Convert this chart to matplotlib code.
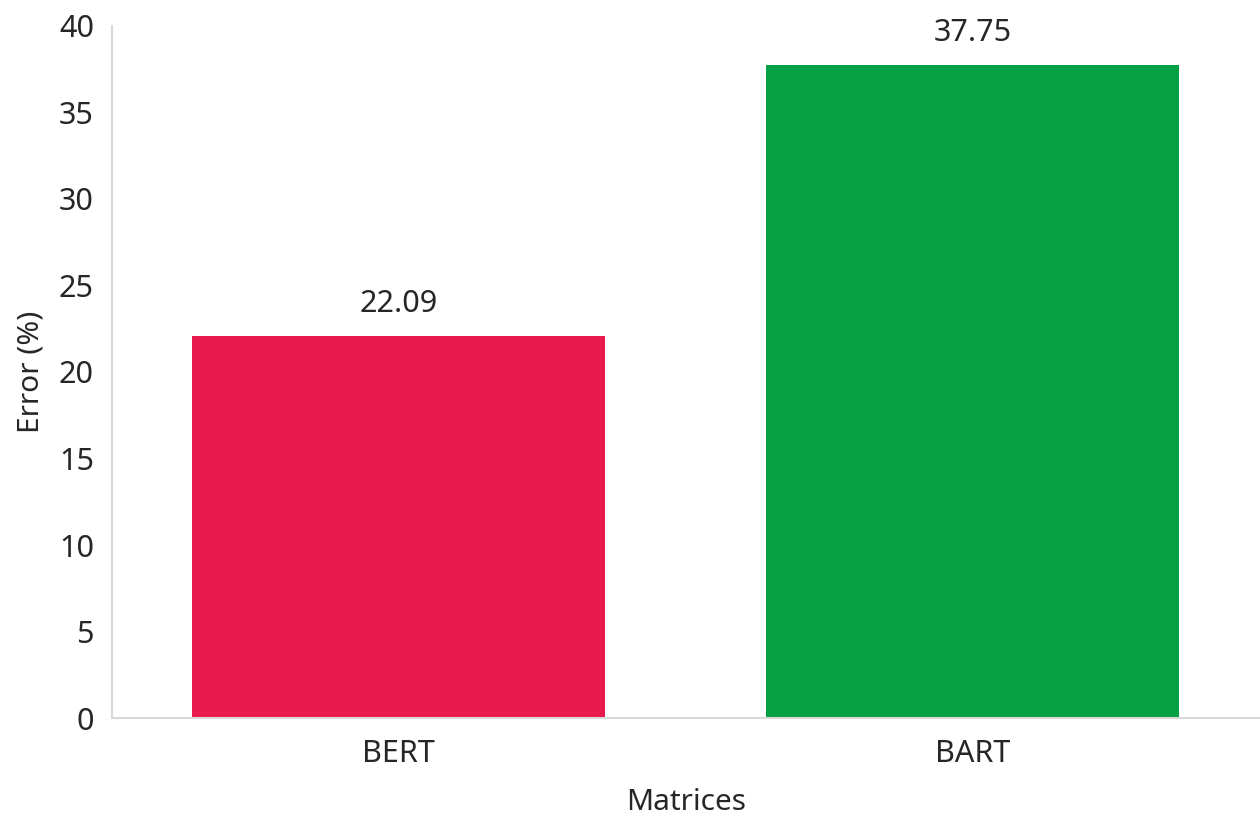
import matplotlib
matplotlib.use("Agg")
import matplotlib.pyplot as plt

# data
models = ["BERT", "BART"]
errors = [22.09, 37.75]
bar_colors = ["#E8194B", "#05A043"]
y_ticks = [0, 5, 10, 15, 20, 25, 30, 35, 40]

plt.rcParams['font.family'] = ['Noto Sans', 'DejaVu Sans']
text_color = '#262626'

fig = plt.figure(figsize=(12.6, 8.19), dpi=100)
ax = fig.add_axes([0.0889, 0.1233, 0.9105, 0.845])

x = range(len(models))
bars = ax.bar(x, errors, width=0.72, color=bar_colors)

# value labels above bars
for rect, val in zip(bars, errors):
    ax.annotate(f"{val:.2f}", (rect.get_x() + rect.get_width() / 2, val),
                xytext=(0, 12), textcoords='offset points',
                ha='center', va='bottom', fontsize=22, color=text_color)

ax.set_xlim(-0.5, 1.5)
ax.set_ylim(0, 40)
ax.set_yticks(y_ticks)
ax.set_xticks(list(x))
ax.set_xticklabels(models)

ax.tick_params(axis='y', length=0, pad=13, labelsize=22, labelcolor=text_color)
ax.tick_params(axis='x', length=0, pad=15, labelsize=22, labelcolor=text_color)

ax.set_xlabel("Matrices", fontsize=21.5, color=text_color, labelpad=14)
ax.set_ylabel("Error (%)", fontsize=21.5, color=text_color, labelpad=10)

for side in ['top', 'right']:
    ax.spines[side].set_visible(False)
for side in ['left', 'bottom']:
    ax.spines[side].set_color('#d9d9d9')
    ax.spines[side].set_linewidth(1.5)

fig.savefig("out.png", dpi=100)
